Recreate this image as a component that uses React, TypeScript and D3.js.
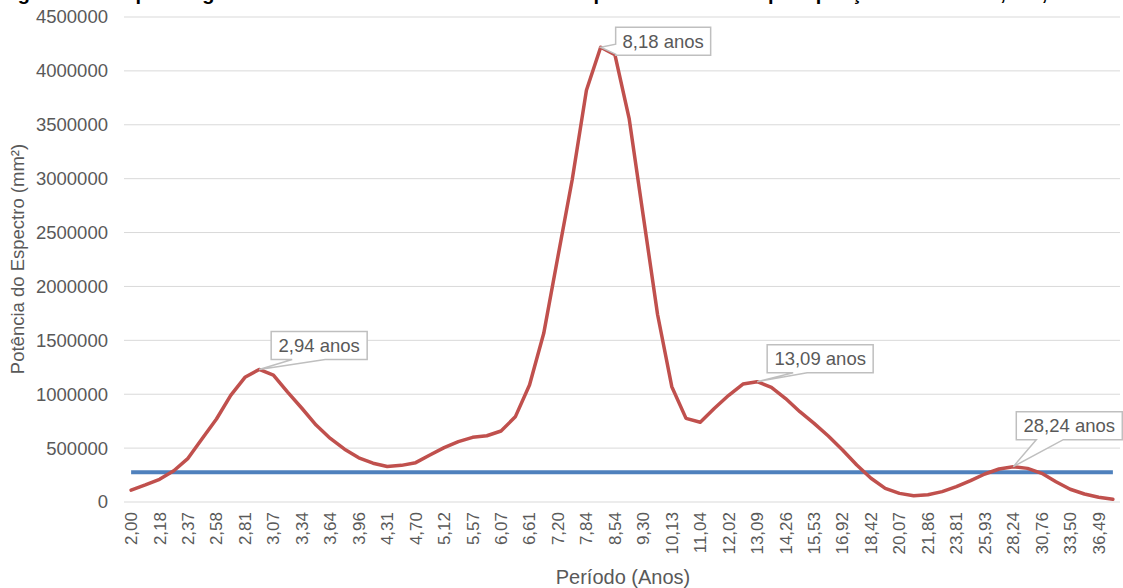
import { useRef, useEffect } from 'react'
import * as d3 from 'd3'

const width = 1123
const height = 588
const margin = { top: 17, right: 3, bottom: 86, left: 124 }

// período (anos) de cada ponto do espectro
const periods = [
  '2,00', '2,09', '2,18', '2,27', '2,37', '2,47', '2,58', '2,69', '2,81', '2,94',
  '3,07', '3,20', '3,34', '3,49', '3,64', '3,80', '3,96', '4,13', '4,31', '4,50',
  '4,70', '4,91', '5,12', '5,34', '5,57', '5,81', '6,07', '6,33', '6,61', '6,90',
  '7,20', '7,51', '7,84', '8,18', '8,54', '8,91', '9,30', '9,71', '10,13', '10,58',
  '11,04', '11,52', '12,02', '12,54', '13,09', '13,66', '14,26', '14,88', '15,53', '16,21',
  '16,92', '17,65', '18,42', '19,23', '20,07', '20,95', '21,86', '22,81', '23,81', '24,85',
  '25,93', '27,06', '28,24', '29,47', '30,76', '32,10', '33,50', '34,96', '36,49', '38,08'
]

// potência do espectro (mm²)
const power = [
  110000, 158000, 210000, 290000, 405000, 590000, 770000, 990000, 1157000, 1230000,
  1178000, 1020000, 870000, 714000, 590000, 490000, 410000, 360000, 330000, 340000,
  365000, 436000, 504000, 560000, 600000, 615000, 659000, 790000, 1085000, 1565000,
  2280000, 2990000, 3820000, 4220000, 4150000, 3560000, 2650000, 1740000, 1070000, 776000,
  740000, 870000, 990000, 1094000, 1116000, 1064000, 960000, 838000, 730000, 612000,
  482000, 343000, 220000, 127000, 80000, 58000, 68000, 96000, 142000, 198000,
  260000, 306000, 328000, 312000, 266000, 188000, 118000, 74000, 44000, 25000
]

// nível de significância
const significance = 275000

const yTicks = [0, 500000, 1000000, 1500000, 2000000, 2500000, 3000000, 3500000, 4000000, 4500000]

const peaks = ['2,94', '8,18', '13,09', '28,24']

// caixa de cada rótulo em relação ao ponto: dx, dy, largura, e a base da "seta"
const calloutLayout = [
  { dx: 12, dy: -38, w: 96, side: 'bottom', b1: 21, b2: 54 },
  { dx: 15, dy: -20, w: 95, side: 'left', b1: 17, b2: 27 },
  { dx: 10, dy: -37, w: 106, side: 'bottom', b1: 26, b2: 40 },
  { dx: 3, dy: -55, w: 106, side: 'bottom', b1: 20, b2: 47 }
]

const textColor = '#595959'
const font = 'Arial, "Liberation Sans", sans-serif'

const App = () => {
  const svgRef = useRef<SVGSVGElement>(null)

  useEffect(() => {
    const svg = d3.select(svgRef.current)
    svg.selectAll('*').remove()

    const x = d3.scaleBand().domain(periods).range([margin.left, width - margin.right]).padding(0)
    const cx = (p: string) => (x(p) as number) + x.bandwidth() / 2
    const y = d3.scaleLinear().domain([0, 4500000]).range([height - margin.bottom, margin.top])

    // título (cortado no topo)
    svg.append('text')
      .attr('x', 0).attr('y', 0)
      .attr('font-family', font).attr('font-weight', 'bold').attr('font-size', 20)
      .attr('fill', '#000')
      .text('Figura 12 – Espectro global de ondeletas da série histórica de potência anual da precipitação em Manaus, AM,')

    // grade
    svg.append('g').selectAll('line')
      .data(yTicks)
      .join('line')
      .attr('x1', margin.left).attr('x2', width - margin.right)
      .attr('y1', d => y(d)).attr('y2', d => y(d))
      .attr('stroke', '#d9d9d9').attr('stroke-width', 1)

    // eixo y
    svg.append('g').selectAll('text')
      .data(yTicks)
      .join('text')
      .attr('x', 108).attr('y', d => y(d))
      .attr('dy', '0.35em')
      .attr('text-anchor', 'end')
      .attr('font-family', font).attr('font-size', 18.5).attr('fill', textColor)
      .text(d => String(d))

    // eixo x: rótulos a cada dois pontos
    svg.append('g').selectAll('text')
      .data(periods.filter((_, i) => i % 2 === 0))
      .join('text')
      .attr('transform', d => `translate(${cx(d)},${y(0) + 10}) rotate(-90)`)
      .attr('dy', '0.35em')
      .attr('text-anchor', 'end')
      .attr('font-family', font).attr('font-size', 17).attr('fill', textColor)
      .text(d => d)

    svg.append('text')
      .attr('x', 623).attr('y', 584)
      .attr('text-anchor', 'middle')
      .attr('font-family', font).attr('font-size', 20).attr('fill', textColor)
      .text('Período (Anos)')

    svg.append('text')
      .attr('transform', `translate(24,259) rotate(-90)`)
      .attr('text-anchor', 'middle')
      .attr('font-family', font).attr('font-size', 18.5).attr('fill', textColor)
      .text('Potência do Espectro (mm²)')

    // linha de significância
    svg.append('line')
      .attr('x1', cx(periods[0])).attr('x2', cx(periods[periods.length - 1]))
      .attr('y1', y(significance)).attr('y2', y(significance))
      .attr('stroke', '#4f81bd').attr('stroke-width', 4)

    // espectro
    const line = d3.line<number>()
      .x((_, i) => cx(periods[i]))
      .y(d => y(d))
    svg.append('path')
      .attr('d', line(power))
      .attr('fill', 'none')
      .attr('stroke', '#c0504d').attr('stroke-width', 3.5)
      .attr('stroke-linejoin', 'round').attr('stroke-linecap', 'round')

    // rótulos dos picos
    peaks.forEach((p, k) => {
      const i = periods.indexOf(p)
      const px = cx(p)
      const py = y(power[i])
      const L = calloutLayout[k]
      const x0 = px + L.dx
      const y0 = py + L.dy
      const x1 = x0 + L.w
      const h = 28
      const y1 = y0 + h
      const d = L.side === 'bottom'
        ? `M${x0},${y0}H${x1}V${y1}H${x0 + L.b2}L${px},${py}L${x0 + L.b1},${y1}H${x0}Z`
        : `M${x0},${y0}H${x1}V${y1}H${x0}V${y0 + L.b2}L${px},${py}L${x0},${y0 + L.b1}Z`
      svg.append('path')
        .attr('d', d)
        .attr('fill', '#fff').attr('stroke', '#bfbfbf').attr('stroke-width', 1.5)
      svg.append('text')
        .attr('x', (x0 + x1) / 2).attr('y', y0 + h / 2)
        .attr('dy', '0.35em')
        .attr('text-anchor', 'middle')
        .attr('font-family', font).attr('font-size', 18.5).attr('fill', textColor)
        .text(`${p} anos`)
    })
  }, [])

  return (
    <svg
      ref={svgRef}
      width={width}
      height={height}
      style={{ position: 'absolute', left: 0, top: 0, background: '#fff' }}
    />
  )
}

export default App
